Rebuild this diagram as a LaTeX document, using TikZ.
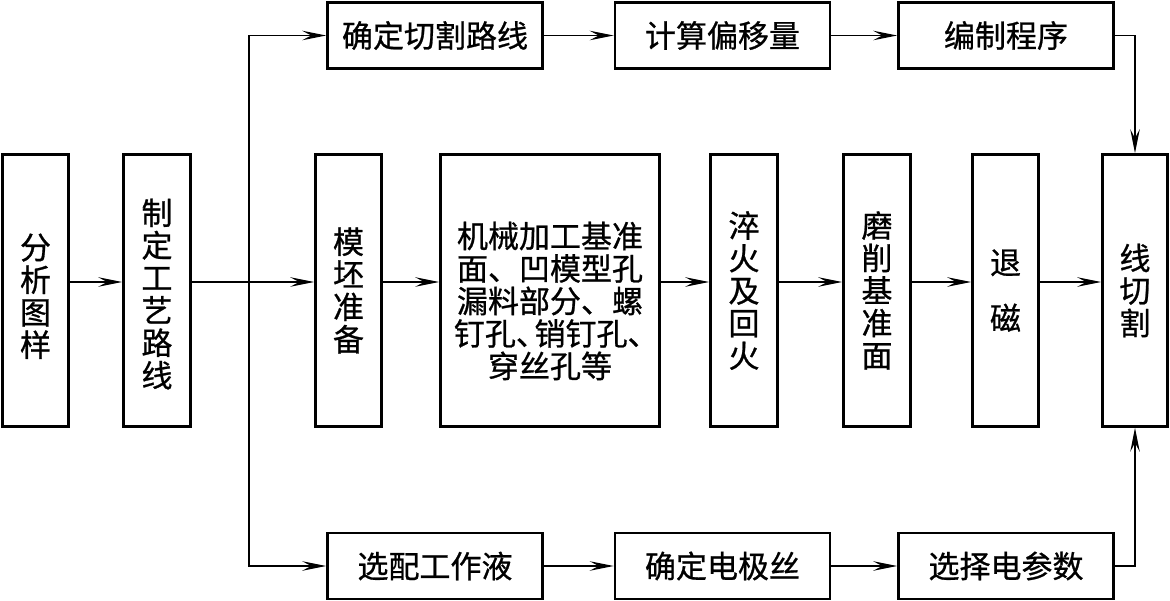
\documentclass[tikz,border=0pt]{standalone}
\usepackage{fontspec}
\newfontfamily\cjk[FakeBold=0.8]{Noto Sans CJK SC}
\usetikzlibrary{arrows.meta}
\newcommand\dun{\makebox[0.6em][l]{、}}
\newcommand\lowr[1]{\rule{0pt}{#1}}
\begin{document}
\begin{tikzpicture}[x=1pt,y=-1pt,
  box/.style={draw, line width=2.6pt, inner sep=0pt, align=center,
    font=\cjk\fontsize{31}{32.5}\selectfont},
  vbox/.style={box, minimum width=#1, minimum height=272pt},
  hbox/.style={box, minimum width=215pt, minimum height=66pt},
  conn/.style={line width=1.2pt},
  arr/.style={conn, -{Stealth[length=24pt,width=9.5pt,inset=9pt]}}]
\fill[white] (0,0) rectangle (1170,601);
\useasboundingbox (0,0) rectangle (1170,601);
% middle row
\node[vbox=66pt] (a) at (35.5,290.5) {\lowr{37pt}分\\析\\图\\样};
\node[vbox=67pt] (b) at (157,290.5) {\lowr{33pt}制\\定\\工\\艺\\路\\线};
\node[vbox=66pt] (c) at (348.5,290.5) {模\\坯\\准\\备};
\node[vbox=219pt] (d) at (550,290.5) {\lowr{47pt}机械加工基准\\面、凹模型孔\\漏料部分、螺\\钉孔\dun 销钉孔\dun\\穿丝孔等};
\node[vbox=67pt] (e) at (744,290.5) {淬\\火\\及\\回\\火};
\node[vbox=67pt] (f) at (877,290.5) {磨\\削\\基\\准\\面};
\node[vbox=66pt] (g) at (1005.5,290.5) {退\\[23pt]磁};
\node[vbox=65pt] (h) at (1135,290.5) {线\\切\\割};
% top row
\node[hbox] (t1) at (435,35.5) {确定切割路线};
\node[hbox] (t2) at (722.5,35.5) {计算偏移量};
\node[hbox] (t3) at (1006,35.5) {编制程序};
% bottom row
\node[hbox] (u1) at (435,566) {选配工作液};
\node[hbox] (u2) at (722.5,566) {确定电极丝};
\node[hbox] (u3) at (1006,566) {选择电参数};
% connectors
\coordinate (m) at (0,282);
\coordinate (br) at (249,282);
\draw[arr] (a.east |- m) -- (b.west |- m);
\draw[conn] (b.east |- m) -- (br);
\draw[arr] (br) -- (c.west |- m);
\draw[arr] (br) |- (t1.west);
\draw[arr] (br) |- (u1.west);
\draw[arr] (c.east |- m) -- (d.west |- m);
\draw[arr] (d.east |- m) -- (e.west |- m);
\draw[arr] (e.east |- m) -- (f.west |- m);
\draw[arr] (f.east |- m) -- (g.west |- m);
\draw[arr] (g.east |- m) -- (h.west |- m);
\draw[arr] (t1) -- (t2);
\draw[arr] (t2) -- (t3);
\draw[arr] (u1) -- (u2);
\draw[arr] (u2) -- (u3);
\draw[arr] (t3.east) -| (h.north);
\draw[arr] (u3.east) -| (h.south);
\end{tikzpicture}
\end{document}
